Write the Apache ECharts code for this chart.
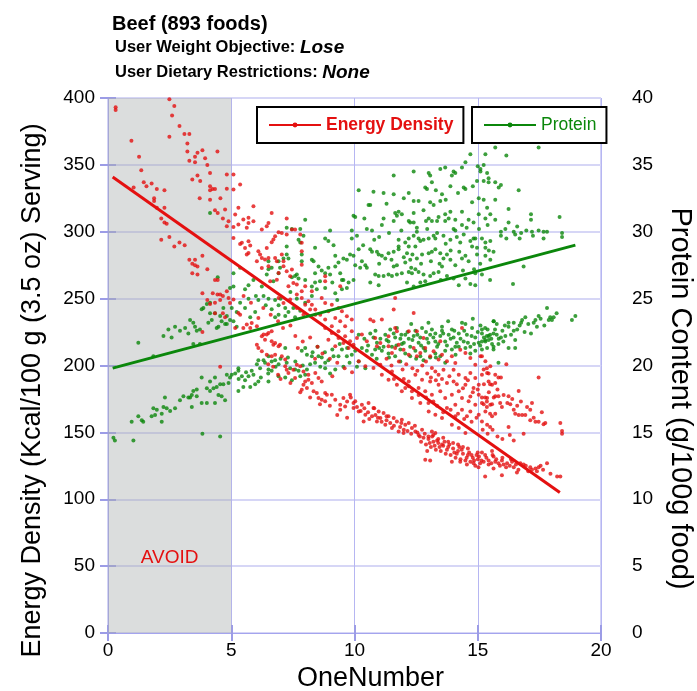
<!DOCTYPE html>
<html>
<head>
<meta charset="utf-8">
<script src="https://cdn.jsdelivr.net/npm/echarts@6/dist/echarts.min.js"></script>
<style>
html,body{margin:0;padding:0;background:#fff;}
#chart{width:697px;height:691px;}
</style>
</head>
<body>
<div id="chart"></div>
<script>
// Axis tick settings
const xTicks = { min: 0, max: 20, interval: 5 };
const energyTicks = { min: 0, max: 400, interval: 50 };
const proteinTicks = { min: 0, max: 40, interval: 5 };

// Energy density of each food: [OneNumber, kcal per 100 g]
const energyPoints = [
  [0.31,393],[0.31,391],[2.49,399],[2.69,394],[2.6,387],[2.9,379],[2.49,371],[3.1,373],[3.3,373],[0.95,368],
  [3.22,366],[3.22,360],[3.83,361],[3.63,359],[3.53,356],[4.44,360],[3.94,355],[3.3,353],[3.53,352],[4.03,350],
  [1.26,356],[1.35,346],[4.14,344],[3.63,342],[3.42,339],[3.74,338],[1.45,337],[1.56,334],[1.77,336],[4.14,334],
  [4.14,331],[4.24,332],[4.34,332],[1.04,333],[1.98,332],[2.29,331],[1.87,325],[1.87,323],[1.98,318],[2.29,318],
  [3.72,325],[4.14,324],[4.56,325],[4.34,316],[4.45,314],[2.16,310],[2.29,307],[2.38,306],[4.66,310],[2.16,294],
  [2.49,296],[2.69,289],[2.9,292],[3.11,290],[3.3,279],[3.53,279],[3.42,276],[3.53,275],[3.63,274],[3.83,282],
  [4.03,272],[3.42,269],[3.63,268],[4.34,264],[4.45,264],
  [3.83,254],[4.03,249],[4.25,254],[4.44,253],[4.55,253],[4.66,252],[4.55,249],[4.14,246],[4.34,247],[4.34,239],
  [4.66,239],[4.75,236],[3.83,225],[4.55,199],
  [4.89,250.5],[4.95,246.8],[5.09,249.3],[5.29,239.3],[5.36,238],[5.16,228.1],[5.49,228.1],[5.63,230.6],[5.77,228.1],[5.83,231.8],
  [6.04,229.3],[6.1,235.5],[6.24,221.8],[6.31,223.1],[6.44,223.1],[6.51,224.3],[6.64,225.6],[6.37,219.3],[6.64,218.1],[6.78,216.8],
  [6.71,215.6],[6.92,214.3],[6.98,215.6],[6.04,215.6],[6.1,213.1],[6.24,210.6],[6.44,208.1],[6.64,206.9],[6.78,208.1],[7.05,206.9],
  [7.19,204.4],[7.19,199.4],[7.25,196.9],[7.32,194.4],[7.52,196.9],[7.59,190.6],[7.66,200.6],[7.8,199.4],[7.93,195.6],[8,188.1],
  [7.93,185.6],[8.07,183.2],[7.86,181.9],[8.13,189.4],[8.27,186.9],[8.34,180.7],[8.47,179.4],[8.54,175.7],[8.81,179.4],[8.67,174.4],
  [8.81,173.2],[8.88,178.2],[9.08,178.2],[9.22,174.4],[9.42,170.7],[9.42,166.9],[9.55,175.7],[9.82,178.2],[9.96,171.9],[9.96,168.2],
  [9.62,169.4],[8.13,193.1],[8.41,194.4],[8.54,190.6],[8.67,188.1],
  [7.32,259.3],[7.66,253],[7.86,250.5],[8.13,248],[8.27,245.5],[8.41,241.8],[8.61,238],[8.81,234.3],[9.08,229.3],[9.35,225.6],
  [9.62,221.8],[9.82,218.1],[9.96,215.6],[7.86,255.5],[8.27,255.5],[8.67,250.5],[8.81,246.8],[9.08,245.5],[9.35,243],[9.49,240.5],
  [9.69,236.8],[9.89,234.3],[8,245.5],[8.2,241.8],[8.41,238],[7.66,243],[7.93,238],[8.94,240.5],[9.22,235.5],[9.42,233.1],
  [9.62,229.3],[8.81,228.1],[9.08,224.3],[9.35,220.6],[9.55,216.8],[9.76,213.1],[9.89,225.6],[9.22,214.3],[8.94,219.3],[6.92,250.5],
  [7.12,246.8],[7.39,249.3],[4.82,255.5],
  [4.82,342.8],[5.09,342.8],[5.36,335.3],[4.82,332.1],[5.09,331.6],[4.75,316.6],[5.29,317.9],[5.9,319.1],[5.16,312.9],[4.89,307.9],
  [4.82,304.1],[5.09,303.6],[5.29,305.4],[5.49,309.1],[5.7,310.4],[5.7,306.6],[5.9,307.9],[6.64,314.1],[6.51,306.6],[6.44,304.1],
  [6.24,301.6],[5.63,302.9],[5.09,295.4],[5.43,291.7],[5.36,290.9],[5.7,292.9],[5.77,289.7],[5.56,287.9],[5.7,284.2],[5.63,282.9],
  [6.1,285.4],[6.17,282.9],[6.24,280.4],[6.44,287.9],[6.64,292.2],[6.71,294.2],[6.78,296.6],[6.92,299.6],[7.05,299.1],[7.25,297.9],
  [7.25,309.9],[7.46,301.6],[7.05,282.9],[6.51,280.4],[6.78,280.4],[6.85,277.9],[7.12,274.2],[7.25,270.4],[7.46,271.7],[7.59,301.6],
  [7.8,297.9],[7.86,291.7],[7.86,285.4],[7.86,275.4],[7.39,266.7],[7.52,261.7],[7.66,260.5],[8,259.2],[8.81,266.7],[8.81,262.9],
  [9.42,259.2],[6.92,269.2],[6.37,279.2],[6.04,277.9],[6.24,272.9],[6.51,274.2],[6.85,264.2],[6.58,263],[7.12,277.9],
  [5.5,252],[5.8,247],[6.3,243],[6.6,238],[6.9,233],[7.1,228],[7.4,230],[7.6,222],[7.9,218],[8.2,221],
  [8.5,214],[8.7,209],[9,205],[9.3,202],[9.6,198],[9.9,195],[7,190],[7.4,187],[7.8,180],[8.2,176],
  [8.6,171],[9,170],[9.3,163],[9.7,161],[6.7,199],[6.9,193],[6.5,201],[7.7,213],[8.4,205],[9.1,192],
  [10.64,234.3],[10.77,233.1],[11.11,234.3],[11.59,241.8],[12.4,239.3],[11.65,250.5],[10.1,220.6],[10.3,223.1],[10.5,218.1],[10.84,220.6],
  [10.91,214.3],[11.05,216.8],[11.38,214.3],[11.52,209.4],[11.65,213.1],[11.79,215.6],[11.99,211.8],[12.2,208.1],[12.4,213.1],[12.53,206.9],
  [12.67,209.4],[12.87,213.1],[13.07,206.9],[13.21,210.6],[13.41,204.4],[13.55,208.1],[13.75,203.1],[13.95,206.9],[14.09,201.9],[14.29,211.8],
  [14.5,209.4],[14.7,205.6],[14.9,200.6],[15.11,206.9],[15.31,203.1],[15.51,199.4],[11.65,228.1],[11.72,225.6],[12.53,225.6],[12.8,220.6],
  [13.48,218.1],[14.36,228.1],[11.38,221.8],[12.2,225.6],[13.28,195.6],[13.41,193.1],[13.61,196.9],[13.14,198.1],[14.02,196.9],[14.23,193.1],
  [14.5,190.6],[14.7,194.4],[14.9,190.6],[15.17,193.1],[15.38,194.4],[15.44,188.1],[15.58,185.7],[15.04,185.7],[14.83,183.2],[14.5,185.7],
  [14.02,188.1],[13.75,186.9],[13.41,185.7],[13.07,188.1],[12.74,189.4],[12.47,193.1],[12.2,188.1],[12.06,183.2],[12.33,180.7],[12.6,183.2],
  [12.87,180.7],[13.14,178.2],[13.48,180.7],[13.68,175.7],[13.95,178.2],[14.23,180.7],[14.36,175.7],[14.7,176.9],[15.04,178.2],[15.38,175.7],
  [15.51,170.7],[15.17,171.9],[14.9,170.7],[14.63,173.2],[14.09,170.7],[13.75,168.2],[14.36,166.9],[14.7,165.7],[15.04,163.2],[15.31,165.7],
  [15.58,162],[14.56,162],[14.09,162],[15.17,158.2],[15.38,155.7],
  [11.3,205],[11.5,200],[11.8,203],[11.95,197],[12.1,201],[12.35,198],[12.55,196],[12.75,200],[12.95,194],[13.1,191],
  [13.3,189],[13.55,190],[13.85,192],[14.15,186],[14.4,183],[14.6,189],[14.8,180],[15,182],[15.25,186],[15.45,180],
  [15.65,176],[15.8,182],[16.05,178],[16.2,172],[16.4,175],[16.6,170],[16.75,173],[17,169],[17.2,172],[17.6,165],
  [13,172],[13.35,170],[13.6,165],[13.9,167],[14.2,164],[14.45,160],[14.75,158],[14.95,161],[15.2,152],[15.4,149],
  [15.6,152],[15.8,147],[16,145],[16.3,148],[12.6,178],[12.9,176],[13.2,173],[11.6,190],[12,190],[12.9,203],
  [10.17,203.1],[10.44,199.4],[10.77,198.1],[11.11,193.1],[11.38,189.4],[11.72,185.7],[11.92,180.7],[12.33,175.7],[12.67,171.9],[13.01,165.7],
  [13.28,163.2],[13.55,160.7],[13.95,155.7],[14.23,153.2],[14.5,149.5],[11.05,200.6],[11.52,195.6],[12.2,184.4],
  [10.03,173.2],[10.3,170.7],[10.57,171.9],[10.77,168.2],[10.98,165.7],[11.18,164.4],[11.38,162],[11.59,160.7],[11.72,158.2],[11.92,159.5],
  [12.06,155.7],[12.2,157],[12.33,153.2],[12.47,150.7],[12.74,152],[10.17,165.7],[10.44,163.2],[10.71,162],[10.91,158.2],[11.25,155.7],
  [11.52,153.2],[11.79,150.7],[11.99,149.5],[13.14,150.7],[13.28,149.5],[10.37,158.2],[11.05,160.7],
  [10.1,169],[10.25,166],[10.4,168],[10.55,165],[10.6,160],[10.85,163],[10.95,161],[11.1,158],[11.3,159],[11.45,157],
  [11.6,155],[11.85,154],[12,152],[12.15,151],[12.3,149],[12.55,150],[12.65,147],[12.85,149],[13.05,142],[13.15,147],
  [13.35,144],[13.45,139],[13.65,143],[13.75,137],[13.85,141],[14.15,134],[14.25,139],[14.35,137],[14.55,131],[14.65,135],
  [14.75,133],[14.85,129],[15.05,132],[15.15,129],[15.35,131],[15.55,127],[15.75,130],[15.9,125],[16.05,126],[16.15,124],
  [16.3,125],[16.55,126],[16.65,122],[16.95,125],[17.05,121],[17.2,122],[17.55,125],[17.65,122],[17.95,119],[16.35,130],
  [16,131],[15.6,133],[14,142],[13.2,148],[12.45,155],[11.9,157],[11.3,162],[10.8,168],[9.85,176],[9.7,173],
  [12.6,148],[12.8,146],[13,145],[13.2,143],[13.4,142],[13.6,140],[13.8,139],[14,138],[14.2,136],[14.4,134],
  [14.6,133],[14.8,131],[15,130],[13.1,139],[13.5,136],[13.9,133],[14.3,130],[14.7,128],[15.1,127],[13,147],
  [13.4,145],[13.8,143],[14.2,141],[14.6,138],[15,135],[12.9,141],[13.3,137],[13.7,134],[14.1,131],[14.5,129],
  [14.9,125],[12.7,143],[13.6,146],[14.4,139],[13.95,128],[14.05,135],[14.95,133],[13.55,141],[12.95,136],[13.25,140],
  [12.87,129.5],[13.07,129],[14.29,128],[14.56,126],[14.83,127],[15.03,124],[15.3,117],[15.98,118],[16.59,120],[17.4,121],
  [18.22,117],[18.35,117],
  [15.17,207],[15.37,198],[15.24,197],[15.44,194],[15.71,193],[15.84,191],[15.94,191],[15.5,186],[15.71,187],[15.17,176],
  [15.3,176],[15.37,173],[15.71,177],[15.84,177],[15.24,171],[15.37,169],[15.58,171],[15.5,164],[15.71,164],[15.91,172],
  [15.98,169],[16.25,177],[16.66,181],[17.47,191],[16.16,201],[16.32,171],[16.46,167],[16.52,164],[16.66,163],[16.8,163],
  [16.93,163],[17.13,167],[17.27,161],[17.13,159],[17.34,158],[17.47,158],[17.67,156],[17.74,157],[18.35,157],[18.42,151],
  [18.42,149],[16.86,149],[16.25,154],[15.5,154],[16.46,144],
  [15.17,135],[15.3,133],[15.44,129],[15.58,136],[15.64,132],[15.71,128],[15.84,127],[15.98,129],[16.19,127],[16.39,128],
  [16.46,124],[16.73,127],[16.86,126],[17.13,124],[17.34,123],[17.47,124],[17.81,127],[15.44,126],[15.24,128],[15.64,123]
];

// Protein content of each food: [OneNumber, g per 100 g]
const proteinPoints = [
  [0.22,14.6],[0.28,14.4],[1.03,14.4],[0.96,15.8],[1.23,16.2],[1.37,15.9],[1.43,15.8],[1.77,16.2],[1.84,16.8],[1.91,16.3],
  [1.98,16.7],[2.18,16.4],[2.18,15.8],[2.25,16.9],[2.31,17.6],[2.38,16.8],[2.52,16.6],[2.72,16.8],[2.92,17.4],[3.06,17.7],
  [3.33,17.6],[3.4,17.8],[3.46,18.1],[3.6,17.7],[3.6,18.2],[3.8,19.1],[4.01,18.3],[4.14,18.1],[4.28,18.3],[4.34,19.1],
  [4.48,17.8],[4.55,18.6],[4.61,17.7],[4.68,18.6],[4.75,17.4],[3.83,14.9],[4.55,14.7],[4.01,17.2],[4.34,17.2],[3.8,17.2],
  [3.4,16.9],[3.26,17.6],[4.41,18.4],[4.14,18.8],
  [1.23,21.7],[1.84,20.7],[2.25,22.2],[2.45,22.7],[2.58,22.1],[2.72,22.9],[2.92,22.6],[3.13,22.8],[3.26,22.4],[3.33,23.4],
  [3.46,23.2],[3.53,22.9],[3.6,22.6],[3.73,22.7],[3.8,24.2],[3.87,24.3],[4.01,24.6],[4.14,23.9],[4.21,23.4],[4.34,23.9],
  [4.41,22.8],[4.48,22.9],[4.55,23.7],[4.61,23.3],[4.68,24.3],[3.73,21.6],[3.46,21.6],[4.07,23.2],[4.14,24.7],[4.75,23.1],
  [4.14,31.4],[4.45,26.6],
  [4.95,25.8],[5.56,25.7],[5.7,25],[6.1,24.9],[6.31,25.2],[6.51,25],[6.78,24.9],[6.92,24.5],[7.19,24.3],[7.32,24],
  [7.52,24.3],[7.66,25],[8,24.7],[8.27,25.2],[8.47,25.7],[8.81,25.8],[9.22,25.4],[9.49,25.7],[9.69,25.8],[5.02,24.3],
  [5.22,24],[5.56,24.3],[5.97,24],[6.64,24.2],[6.78,23.6],[6.92,23.8],[7.19,23.7],[7.59,23.6],[5.77,23.6],[5.36,24.7],
  [4.82,23.7],[4.95,23.4],[4.82,23.1],[5.09,23.3],[5.22,22.9],
  [6,25.2],[6.4,24.5],[7,25],[7.4,25.5],[7.8,24.1],[8.6,26.3],[9.1,26.2],[9.3,24.9],
  [7.19,21.3],[8,21.3],[7.86,21.1],[8.07,20.8],[8.27,20.7],[8.54,20.7],[8.67,20.6],[8.81,20.2],[8.61,19.9],[8.94,20.4],
  [9.15,20.7],[9.35,20.7],[9.49,21.2],[9.69,20.7],[9.89,20.8],[9.96,21.4],[9.55,19.9],[9.22,19.7],[9.01,19.4],[8.81,19.8],
  [8.4,20.2],[8.2,20.1],[8.07,19.7],[8,19.3],[7.8,19.2],[7.73,19.6],[7.59,19.7],[7.39,19.8],[7.25,20.2],[6.92,20.1],
  [6.78,20.4],[6.64,20.3],[6.51,20.7],[6.31,20.4],[6.1,20.4],[6.04,20.1],[6.17,19.8],[6.51,19.7],[6.37,20.2],[6.64,19.6],
  [6.92,19.2],[7.19,19.1],[7.46,18.9],[6.51,18.8],[6.1,18.8],[5.97,18.6],[5.83,19.6],[5.7,19.2],[5.56,18.9],[5.43,19.2],
  [5.29,19.6],[5.16,19.4],[5.02,19.3],[4.82,19.3],[5.29,19.8],[5.49,18.4],[5.77,18.4],[5.29,18.1],[4.89,18.7],[4.95,19.1],
  [5.3,19],[5.6,19.5],[5.9,19.3],[6.2,19.1],[6.5,19.4],[6.8,19.9],[7,20.5],[7.3,20.6],[7.6,20.3],[7.9,20],
  [8.3,21],[8.5,21.4],[8.8,21],[9.1,21.2],[9.4,21.6],[9.7,21.3],[9.8,20.2],
  [8,30.9],[7.25,30.3],[7.46,30.2],[7.8,30.2],[7.93,29.7],[9.01,30.1],[9.89,30.1],[8.81,29.5],[8.94,29.3],[9.15,29],
  [8.4,28.8],[7.73,29.4],[7.8,29.2],[7.86,28.3],[7.86,27.8],[7.66,26.8],[7.59,26.7],[7.46,26.6],[7.73,26.5],[7.25,28.9],
  [7.25,28.3],[7.32,28],[7.12,28],[6.92,27.8],[6.98,27.3],[6.92,26.9],[6.51,27.8],[6.64,27.3],[6.51,27.2],[6.44,26.8],
  [6.71,26.3],[5.9,26.4],[5.7,26],[6.24,25.9],[5.36,27.3],[5.09,26.9],[5.09,25.9],[8.27,27.9],[8.34,27.8],[8.54,27.4],
  [8.67,27.1],[8.4,26.9],[8.81,26.9],[8.94,27.3],[9.01,26.8],[9.22,27.4],[9.35,27.7],[9.42,26.9],[9.55,28],[9.69,27.9],
  [9.82,28.3],[9.96,28.2],[9.49,26.4],[9.76,26.2],[9.96,26.4],[8.4,26.2],[8.27,25.9],[8,26.4],[9.22,28.2],[9.55,26.4],
  [9.89,29.5],[9.96,31.2],
  [14.7,35.8],[15.31,35.8],[15.24,35],[15.11,34.7],[15.11,34.5],[15.38,34.4],[15.44,34],[14.36,34.8],[14.02,34.5],[14.09,34.4],
  [13.68,34.8],[13.48,34.7],[13.01,34.4],[13.07,34.2],[13.14,33.7],[12.4,34.5],[11.59,34.2],[12.87,33.3],[12.94,33.2],[12.2,32.9],
  [11.59,32.8],[11.18,32.9],[10.77,33],[10.17,33.1],[10.57,32],[10.64,32],[12.6,32.3],[12.4,32.3],[13.07,32.2],[13.21,32],
  [13.48,32.3],[13.55,32.8],[13.89,33.4],[13.95,34.2],[14.43,33.3],[14.5,33.2],[14.77,32.2],[15.04,32.5],[15.24,32.4],[15.38,31.8],
  [15.44,33.7],[14.97,33.8],[15.24,33.8],[11.79,31.5],[11.65,31.4],[11.72,31.2],[11.92,31.3],[12.4,31.4],[12.2,30.8],[12.26,30.7],
  [12.4,30.7],[11.59,30.8],[11.18,31],[11.11,30.5],[10.5,30.2],[10.71,30.1],[13.01,31],[13.14,30.8],[13.41,31.1],[13.35,30.8],
  [13.68,31.3],[13.89,31.5],[13.82,31],[14.09,30.9],[14.36,30.5],[14.63,30.9],[14.83,30.7],[15.04,31.3],[15.31,31],[15.51,31.3],
  [14.36,31.5],[13.68,30.8],[12.53,30.3],[12.53,30],[14.02,30.2],[14.09,30.1],[14.43,29.8],[14.83,29.5],[14.9,29.5],[15.17,29.5],
  [15.31,29.2],[15.51,29.3],[15.31,28.8],[14.97,28.8],[14.77,28.9],[14.29,29.2],[13.89,29.4],[13.61,29.7],[13.28,29.5],[13.21,29.7],
  [13.01,29.5],[12.8,29.4],[12.6,29.5],[12.4,29.7],[12.2,29.5],[12.06,29.2],[12.2,28.9],[12.47,28.9],[12.67,29.3],[12.13,28.4],
  [11.79,29.4],[11.79,28.9],[11.79,28.7],[11.59,28.5],[11.38,28.4],[11.25,28],[11.11,28.2],[10.98,28.3],[10.91,28.5],[10.71,28.5],
  [10.64,28.7],[10.3,27.8],[10.44,27.5],[10.23,27.3],[10.5,27.3],[10.03,27.5],[10.17,28.7],[10.1,29.7],[10.03,31.1],[10.84,26.8],
  [10.98,26.7],[11.18,26.7],[11.38,26.8],[11.59,27.4],[11.72,27.5],[12.06,27.7],[12.26,27.9],[12.53,28],[12.74,28.3],[13.01,28.4],
  [13.14,28.5],[13.28,28.7],[13.48,28.4],[13.61,28],[13.75,28.3],[13.89,27.9],[14.09,27.5],[14.36,28],[14.63,27.8],[14.97,28.3],
  [15.31,28.2],[15.51,27.9],[13.55,27.4],[13.41,27],[13.21,26.9],[13.07,26.7],[12.8,26.8],[12.6,27],[12.47,27.2],[12.33,26.9],
  [12.2,27],[11.92,26.9],[11.72,26.8],[11.52,26.7],[12.13,26.2],[12.4,25.9],[12.67,26.2],[12.87,26.3],[13.75,26.7],[14.02,26.5],
  [14.5,26.5],[14.9,26.9],[15.17,26.8],[14.23,26],[14.7,26.1],[14.9,26],[10.64,26.2],[10.98,26],
  [10.35,29],[10.8,29.4],[11,27.6],[11.4,29.9],[11.5,27.9],[11.9,30.1],[12,28.1],[12.35,28.3],[12.7,27.6],[12.95,30.2],
  [13.1,27.8],[13.35,29.9],[13.45,27.6],[13.7,29.1],[13.9,28.6],[14.15,29.6],[14.25,28.5],[14.5,28.2],[14.55,30.3],[14.7,29.3],
  [14.85,27.2],[15.05,30.2],[15.1,27.6],[15.4,30.5],[15.45,28.6],[11.3,32.1],[12,32.5],[12.8,31.6],[13.3,33.1],[13.7,32.4],
  [14.2,32.9],[14.8,33.4],[15,34.9],[14.5,35.2],[12.9,30.8],[11,29.6],[10.4,31],[12.3,27.3],[13.5,26.4],[14.4,27.1],
  [10.17,22.3],[10.64,22.4],[10.77,22.1],[10.91,21.7],[11.05,22],[11.18,21.4],[11.25,22.3],[11.38,21.8],[11.52,21.4],[11.59,22.4],
  [11.65,22.1],[11.72,22.8],[11.86,22],[11.92,21.6],[12.06,22.3],[12.2,22],[12.26,21.4],[12.4,22.2],[12.47,22.6],[12.6,21.7],
  [12.67,22.1],[12.74,22.8],[12.8,21.3],[12.94,22],[13.07,22.3],[13.14,22.7],[13.28,21.8],[13.35,21.4],[13.48,22.2],[13.55,22.9],
  [13.68,21.8],[13.82,22.3],[13.95,22.7],[14.02,22.1],[14.09,21.4],[14.23,22.4],[14.36,23.2],[14.43,21.8],[14.56,22.3],[14.7,21.4],
  [14.77,22.8],[14.9,22.1],[15.04,21.7],[15.17,22.4],[15.31,21.8],[15.44,22.2],[15.58,21.6],[15.65,23.3],[10.3,21.3],[10.5,21.1],
  [10.71,20.8],[10.84,21.2],[11.11,21.1],[11.38,20.9],[11.65,20.7],[11.86,21.2],[12.06,20.9],[12.26,20.7],[12.47,21.1],[12.67,20.7],
  [12.87,21.1],[13.07,20.6],[13.28,20.9],[13.48,20.7],[13.68,21.1],[13.95,21.2],[14.23,21.4],[14.5,21.3],[14.9,21.1],[15.17,21.2],
  [15.38,21.3],[10.03,21.1],[10.17,20.3],[10.1,19.9],[10.44,19.8],[11.86,20.3],[12.8,20.4],[13.68,20.2],[14.5,23.1],[15.11,23],
  [13.55,22.6],[13.28,22.4],
  [10.4,22],[10.55,21.5],[10.85,22.6],[11,21.3],[11.3,21.9],[11.45,22.7],[11.7,21.5],[11.9,22.3],[12,21.7],[12.15,22.5],
  [12.35,21.9],[12.55,22.3],[12.7,21.5],[12.9,22.5],[13,21.7],[13.2,22.1],[13.4,21.6],[13.6,22.4],[13.75,21.5],[13.9,22],
  [14.05,22.6],[14.15,21.7],[14.3,22],[14.45,22.6],[14.6,21.7],[14.75,22.2],[14.85,21.6],[15,22.5],[15.1,21.5],[15.25,22.1],
  [15.4,22.7],[15.55,22],[15.7,22.7],[15.85,22],[16,22.6],[16.1,23],[16.35,22.3],[16.6,22.7],[16.7,23],[16.9,22.5],
  [17.05,23.1],[17.4,22.9],[17.55,23.5],[17.7,23],[18.2,23.9],[12.3,23.1],[13,23.2],[13.8,23.3],[14.8,23.5],[11.4,20.6],
  [12.5,20.5],[13.3,20.6],[14.1,20.8],[14.7,20.9],[10.9,20.5],
  [15.5,26.4],[16.43,26.1],[17.81,24.3],[17.94,23.6],[18.01,23.4],[17.88,23.4],[17.47,23.7],[17.34,23.4],[17.27,23.2],[16.93,23.6],
  [16.8,23.4],[16.76,23.2],[16.46,23.2],[16.25,23.2],[16.25,22.9],[16.46,22.6],[17.16,22.4],[16.52,21.9],[16.25,21.3],[16.52,21.3],
  [15.94,22.1],[16.12,22.2],[15.77,23.1],[15.64,23.3],[15.64,22.4],[15.77,22.3],[15.5,22.3],[15.37,22.2],[15.3,21.9],[15.17,21.8],
  [15.44,21.9],[15.64,21.4],[15.64,21.2],[15.84,21.6],[16.04,21.8],[15.3,22.8],[15.17,22.7],[15.84,20.2],[18.82,23.4],[18.96,23.7],
  [18.08,23.6],
  [15.71,36.3],[17.47,36.3],[16.16,35.7],[15.71,33.7],[15.85,33.3],[15.94,33.5],[16.66,33.1],[15.71,32.4],[16.25,31.7],[17.16,31.3],
  [17.16,30.9],[18.32,31.1],[15.71,30.9],[16.25,30.7],[16.6,30.4],[16.12,30.2],[16.46,30],[15.94,30],[15.94,29.7],[16.16,29.5],
  [16.52,29.8],[16.76,29.9],[16.7,29.5],[16.97,30.1],[17.2,30],[17.24,29.7],[17.67,30],[17.47,30.1],[17.67,29.5],[17.81,30],
  [18.42,29.9],[18.42,29.6],[15.64,28.5],[16.86,27.4]
];

// Least-squares trend lines drawn across the data range
const energyFit = [[0.19,341],[18.33,105]];
const proteinFit = [[0.19,19.8],[18.96,29.0]];

// Region of foods to avoid
const avoidRange = [0, 5];

const FONT = 'Liberation Sans, Arial, sans-serif';
const RED = '#e41010';
const GREEN = '#0b870b';
const FRAME = '#a4a4ee';

const chart = echarts.init(document.getElementById('chart'), null, { renderer: 'canvas' });

chart.setOption({
  animation: false,
  backgroundColor: '#ffffff',
  textStyle: { fontFamily: FONT },
  title: [
    {
      text: 'Beef (893 foods)',
      left: 107, top: 9,
      textStyle: { fontFamily: FONT, fontSize: 20, fontWeight: 'bold', color: '#000' }
    },
    {
      text: '{n|User Weight Objective: }{b|Lose}\n{n|User Dietary Restrictions: }{b|None}',
      left: 110, top: 30,
      textStyle: {
        fontFamily: FONT, color: '#000', lineHeight: 25,
        rich: {
          n: { fontFamily: FONT, fontSize: 16.5, color: '#000', lineHeight: 25 },
          b: { fontFamily: FONT, fontSize: 19, fontWeight: 'bold', fontStyle: 'italic', color: '#000', lineHeight: 25 }
        }
      }
    }
  ],
  legend: [
    {
      data: ['Energy Density'],
      left: 257, top: 107,
      padding: [9, 10, 9, 11],
      itemWidth: 52, itemHeight: 6,
      borderColor: '#000', borderWidth: 2,
      backgroundColor: '#fff',
      textStyle: { color: RED, fontWeight: 'bold', fontSize: 17.5, fontFamily: FONT }
    },
    {
      data: ['Protein'],
      left: 472, top: 107,
      padding: [9, 10, 9, 11],
      itemWidth: 52, itemHeight: 6,
      borderColor: '#000', borderWidth: 2,
      backgroundColor: '#fff',
      textStyle: { color: GREEN, fontSize: 17.5, fontFamily: FONT }
    }
  ],
  grid: {
    left: 108, top: 98, width: 493, height: 535,
    outerBoundsMode: 'none', containLabel: false,
    show: true, borderColor: FRAME, borderWidth: 1, backgroundColor: '#fff'
  },
  xAxis: [
    {
      type: 'value', min: xTicks.min, max: xTicks.max, interval: xTicks.interval,
      name: 'OneNumber', nameLocation: 'middle', nameGap: 32,
      nameTextStyle: { fontFamily: FONT, fontSize: 27, color: '#000', padding: [0, 0, 0, 32] },
      axisLine: { show: true, lineStyle: { color: FRAME } },
      axisTick: { show: true, inside: true, length: 8, lineStyle: { color: '#9c9ce6', width: 2 } },
      axisLabel: { fontFamily: FONT, fontSize: 19, color: '#000', margin: 8 },
      splitLine: { show: true, lineStyle: { color: '#b6b6f2', width: 1 } }
    },
    {
      type: 'value', position: 'top', min: xTicks.min, max: xTicks.max, interval: xTicks.interval,
      axisLine: { show: true, lineStyle: { color: FRAME } },
      axisTick: { show: true, inside: true, length: 8, lineStyle: { color: '#9c9ce6', width: 2 } },
      axisLabel: { show: false },
      splitLine: { show: false }
    }
  ],
  yAxis: [
    {
      type: 'value', min: energyTicks.min, max: energyTicks.max, interval: energyTicks.interval,
      name: 'Energy Density (Kcal/100 g (3.5 oz) Serving)',
      nameLocation: 'middle', nameRotate: 90, nameGap: 62,
      nameTextStyle: { fontFamily: FONT, fontSize: 27, color: '#000', padding: [0, 50, 0, 0] },
      axisLine: { show: true, lineStyle: { color: FRAME } },
      axisTick: { show: true, inside: true, length: 8, lineStyle: { color: '#9c9ce6', width: 2 } },
      axisLabel: { fontFamily: FONT, fontSize: 19, color: '#000', margin: 13 },
      splitLine: { show: true, lineStyle: { color: '#d6d6f6', width: 2 } }
    },
    {
      type: 'value', position: 'right', min: proteinTicks.min, max: proteinTicks.max, interval: proteinTicks.interval,
      name: 'Protein Content (g/100g food)',
      nameLocation: 'middle', nameRotate: -90, nameGap: 64,
      nameTextStyle: { fontFamily: FONT, fontSize: 29, color: '#000', padding: [0, 0, 0, 66] },
      axisLine: { show: true, lineStyle: { color: FRAME } },
      axisTick: { show: true, inside: true, length: 8, lineStyle: { color: '#9c9ce6', width: 2 } },
      axisLabel: { fontFamily: FONT, fontSize: 19, color: '#000', margin: 31 },
      splitLine: { show: false }
    }
  ],
  series: [
    {
      name: 'Protein values', type: 'scatter', yAxisIndex: 1,
      data: proteinPoints, symbol: 'circle', symbolSize: 4,
      itemStyle: { color: GREEN },
      markArea: {
        silent: true,
        itemStyle: { color: 'rgba(170,174,174,0.42)' },
        label: {
          show: true, position: 'insideBottom', distance: 66,
          formatter: 'AVOID', color: RED, fontSize: 19, fontFamily: FONT
        },
        data: [[{ xAxis: avoidRange[0] }, { xAxis: avoidRange[1] }]]
      },
      z: 3
    },
    {
      name: 'Energy values', type: 'scatter', yAxisIndex: 0,
      data: energyPoints, symbol: 'circle', symbolSize: 4,
      itemStyle: { color: RED },
      z: 3
    },
    {
      name: 'Energy Density', type: 'line', yAxisIndex: 0,
      data: energyFit, symbol: 'circle', symbolSize: 4, showSymbol: false,
      lineStyle: { color: RED, width: 3 }, itemStyle: { color: RED },
      z: 5
    },
    {
      name: 'Protein', type: 'line', yAxisIndex: 1,
      data: proteinFit, symbol: 'circle', symbolSize: 4, showSymbol: false,
      lineStyle: { color: GREEN, width: 3 }, itemStyle: { color: GREEN },
      z: 5
    }
  ]
});
</script>
</body>
</html>
